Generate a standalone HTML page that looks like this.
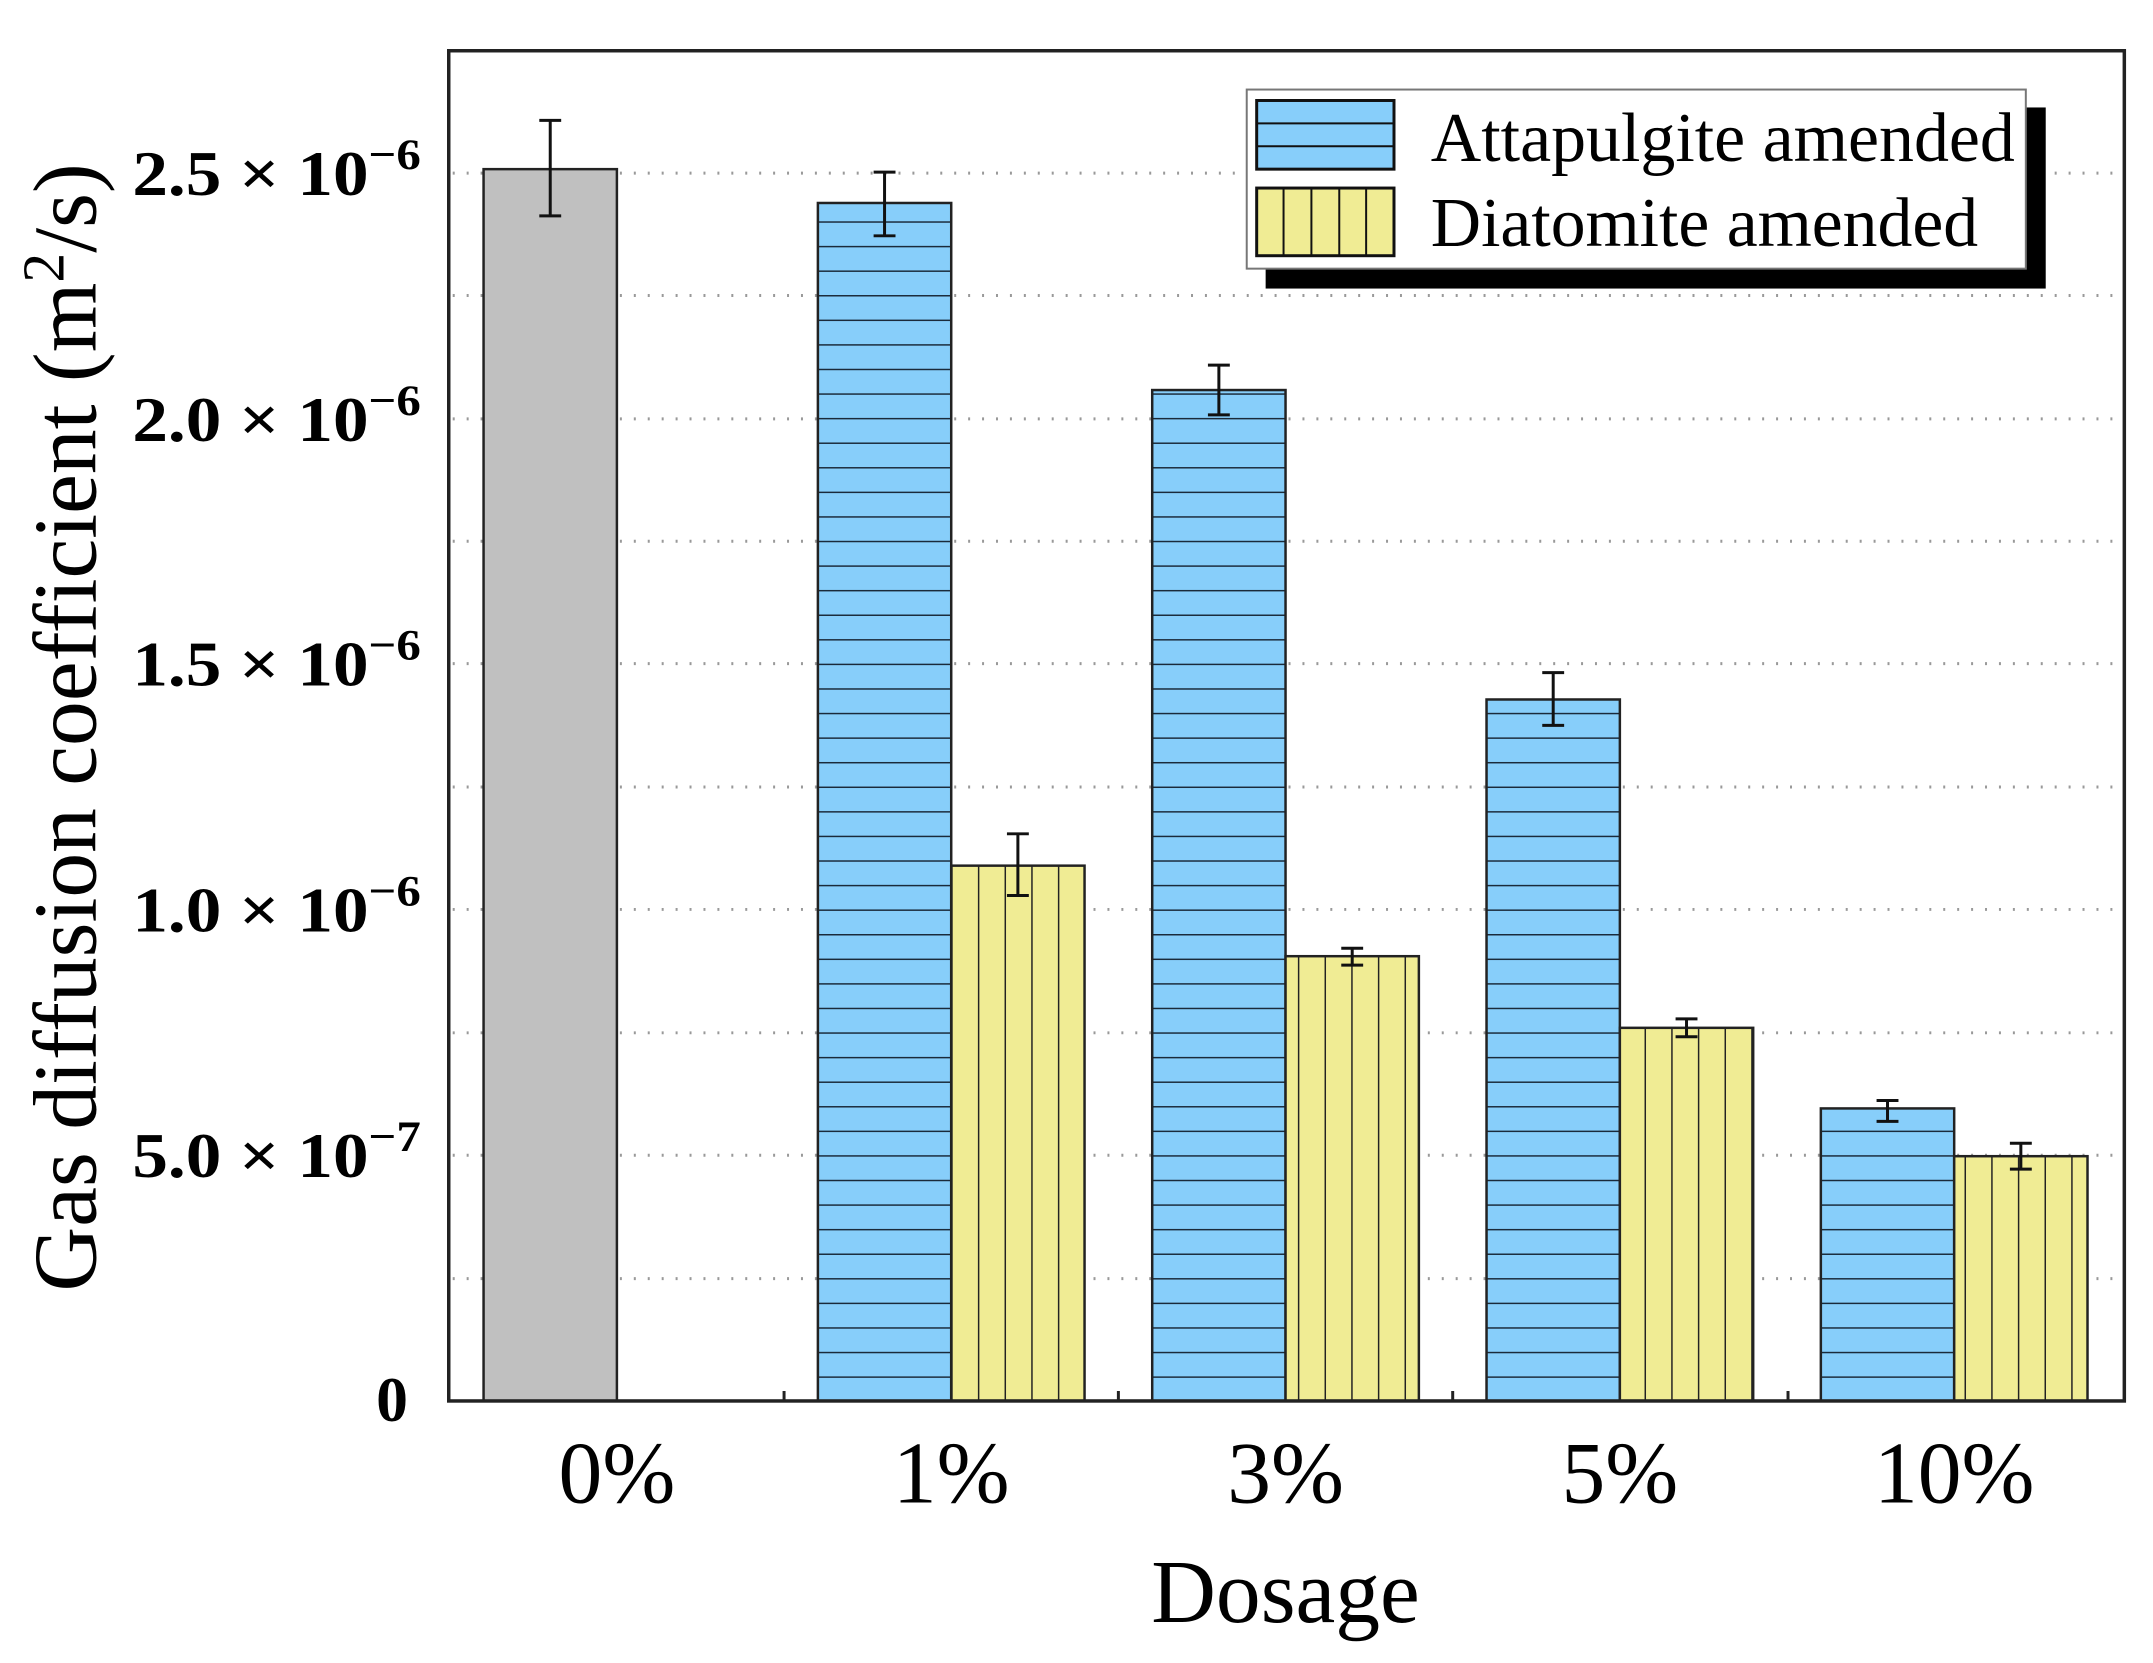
<!DOCTYPE html>
<html><head><style>body{margin:0;background:#fff}</style></head><body>
<svg width="2153" height="1658" xmlns="http://www.w3.org/2000/svg" font-family="Liberation Serif, serif">
<defs>
<pattern id="hb" patternUnits="userSpaceOnUse" width="20" height="24.7" y="1408"><rect width="20" height="24.7" fill="#87cefa"/><line x1="0" y1="0.5" x2="20" y2="0.5" stroke="#1a2a3a" stroke-width="2"/></pattern>
<pattern id="vy" patternUnits="userSpaceOnUse" width="26.8" height="20" x="956"><rect width="26.8" height="20" fill="#f0ec94"/><line x1="0.5" y1="0" x2="0.5" y2="20" stroke="#222" stroke-width="2"/></pattern>
</defs>
<g transform="scale(0.995)">
<g stroke="#999" stroke-width="3" stroke-dasharray="2,12">
<line x1="455" y1="1285" x2="2133" y2="1285"/><line x1="455" y1="1161" x2="2133" y2="1161"/><line x1="455" y1="1038" x2="2133" y2="1038"/><line x1="455" y1="914" x2="2133" y2="914"/><line x1="455" y1="791" x2="2133" y2="791"/><line x1="455" y1="667" x2="2133" y2="667"/><line x1="455" y1="544" x2="2133" y2="544"/><line x1="455" y1="421" x2="2133" y2="421"/><line x1="455" y1="297" x2="2133" y2="297"/><line x1="455" y1="174" x2="2133" y2="174"/>
</g>
<g stroke="#222" stroke-width="2.5">
<rect x="486" y="170" width="134" height="1238" fill="#c0c0c0"/>
<rect x="822" y="204" width="134" height="1204" fill="url(#hb)"/>
<rect x="956" y="870" width="134" height="538" fill="url(#vy)"/>
<rect x="1158" y="392" width="134" height="1016" fill="url(#hb)"/>
<rect x="1292" y="961" width="134" height="447" fill="url(#vy)"/>
<rect x="1494" y="703" width="134" height="705" fill="url(#hb)"/>
<rect x="1628" y="1033" width="134" height="375" fill="url(#vy)"/>
<rect x="1830" y="1114" width="134" height="294" fill="url(#hb)"/>
<rect x="1964" y="1162" width="134" height="246" fill="url(#vy)"/>
</g>
<g stroke="#111" stroke-width="3" fill="none">
<path d="M553 121V217M542 121H564M542 217H564"/>
<path d="M889 173V237M878 173H900M878 237H900"/>
<path d="M1023 838V900M1012 838H1034M1012 900H1034"/>
<path d="M1225 367V417M1214 367H1236M1214 417H1236"/>
<path d="M1359 953V970M1348 953H1370M1348 970H1370"/>
<path d="M1561 676V729M1550 676H1572M1550 729H1572"/>
<path d="M1695 1024V1042M1684 1024H1706M1684 1042H1706"/>
<path d="M1897 1106V1127M1886 1106H1908M1886 1127H1908"/>
<path d="M2031 1149V1175M2020 1149H2042M2020 1175H2042"/>
</g>
<rect x="451" y="51" width="1684" height="1357" fill="none" stroke="#222" stroke-width="3.5"/>
<g stroke="#222" stroke-width="3"><line x1="788" y1="1408" x2="788" y2="1398"/><line x1="1124" y1="1408" x2="1124" y2="1398"/><line x1="1460" y1="1408" x2="1460" y2="1398"/><line x1="1797" y1="1408" x2="1797" y2="1398"/></g>
<rect x="1272" y="108" width="784" height="182" fill="#000"/>
<rect x="1253" y="90" width="783" height="180" fill="#fff" stroke="#777" stroke-width="2"/>
<rect x="1263" y="101" width="138" height="69" fill="#87cefa" stroke="#111" stroke-width="3"/>
<line x1="1263" y1="124" x2="1401" y2="124" stroke="#111" stroke-width="2"/><line x1="1263" y1="147" x2="1401" y2="147" stroke="#111" stroke-width="2"/>
<rect x="1263" y="189" width="138" height="68" fill="#f0ec94" stroke="#111" stroke-width="3"/>
<g stroke="#111" stroke-width="2"><line x1="1290" y1="189" x2="1290" y2="257"/><line x1="1318" y1="189" x2="1318" y2="257"/><line x1="1346" y1="189" x2="1346" y2="257"/><line x1="1373" y1="189" x2="1373" y2="257"/></g>
<text x="1438" y="162" font-size="70" textLength="587" lengthAdjust="spacingAndGlyphs">Attapulgite amended</text>
<text x="1438" y="247" font-size="70" textLength="550" lengthAdjust="spacingAndGlyphs">Diatomite amended</text>
<g font-size="64" font-weight="bold" text-anchor="end">
<text x="423" y="196" textLength="290" lengthAdjust="spacingAndGlyphs">2.5 × 10<tspan dy="-26" font-size="44">−6</tspan></text>
<text x="423" y="443" textLength="290" lengthAdjust="spacingAndGlyphs">2.0 × 10<tspan dy="-26" font-size="44">−6</tspan></text>
<text x="423" y="689" textLength="290" lengthAdjust="spacingAndGlyphs">1.5 × 10<tspan dy="-26" font-size="44">−6</tspan></text>
<text x="423" y="936" textLength="290" lengthAdjust="spacingAndGlyphs">1.0 × 10<tspan dy="-26" font-size="44">−6</tspan></text>
<text x="423" y="1183" textLength="290" lengthAdjust="spacingAndGlyphs">5.0 × 10<tspan dy="-26" font-size="44">−7</tspan></text>
<text x="410" y="1428">0</text>
</g>
<g font-size="88" text-anchor="middle">
<text x="620" y="1510">0%</text><text x="956" y="1510">1%</text><text x="1292" y="1510">3%</text><text x="1628" y="1510">5%</text><text x="1964" y="1510">10%</text>
<text x="1292" y="1630" font-size="90">Dosage</text>
<text transform="translate(96,731) rotate(-90)" font-size="90">Gas diffusion coefficient (m<tspan dy="-32" font-size="60">2</tspan><tspan dy="32">/s)</tspan></text>
</g>
</g>
</svg>
</body></html>
